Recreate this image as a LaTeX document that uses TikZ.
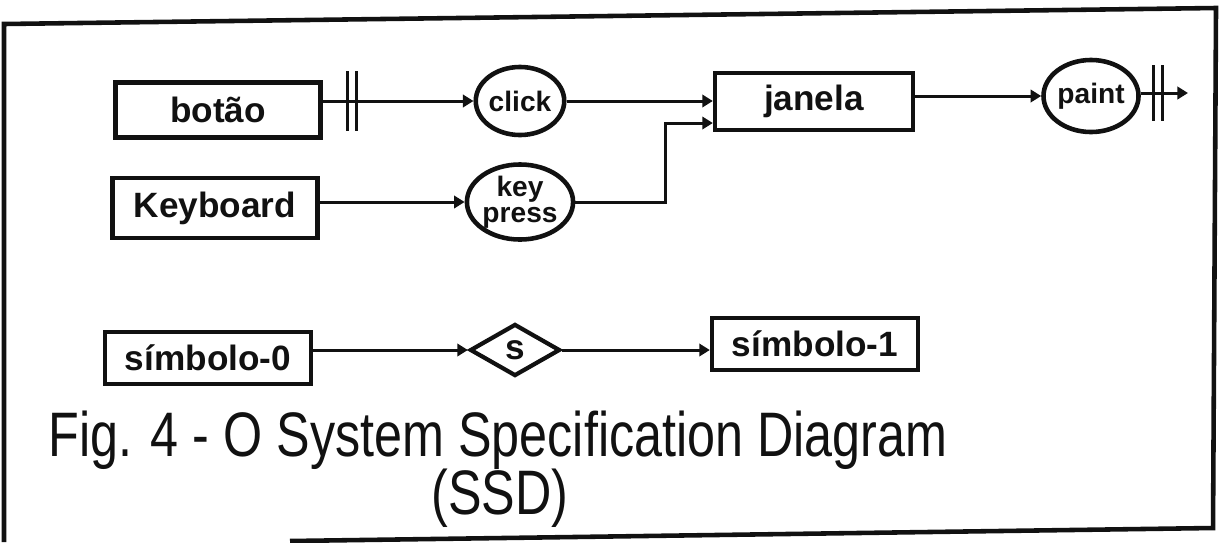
\documentclass[tikz,border=0pt]{standalone}
\usepackage{fontspec}
\setmainfont{Liberation Sans}
\usetikzlibrary{positioning,shapes.geometric,arrows.meta}
\definecolor{ink}{HTML}{111111}

\begin{document}
\begin{tikzpicture}[x=0.01cm, y=-0.01cm, ink,
    unit/.style={draw=ink, line width=1.2pt, inner sep=1pt, font=\bfseries\fontsize{10}{12}\selectfont},
    event/.style={ellipse, draw=ink, line width=1.3pt, inner sep=0pt, align=center, font=\bfseries\fontsize{8}{7.5}\selectfont},
    cond/.style={diamond, draw=ink, line width=1.2pt, inner sep=0pt, font=\bfseries\fontsize{10}{12}\selectfont},
    flow/.style={line width=0.85pt, -{Triangle[length=3pt,width=3.5pt]}},
    bar/.style={line width=1.1pt}]

  \useasboundingbox (0,0) rectangle (1219,542);

  % frame
  \draw[line width=1.3pt] (290,541) -- (1213,528) -- (1216,8) -- (4,24) -- (4,542);

  % row 1: button -> click -> window -> paint
  \node[unit, minimum width=2.05cm, minimum height=0.55cm] (botao) at (218,110) {botão};
  \node[event, minimum width=0.85cm, minimum height=0.68cm] (click) at (520,101) {click};
  \node[unit, minimum width=1.98cm, minimum height=0.57cm] (janela) at (814,101.5) {janela};
  \node[event, minimum width=0.83cm, minimum height=0.72cm] (paint) at (1091,96) {paint};
  \coordinate (out) at (1188,93);
  \coordinate (cut1) at (352,101);
  \coordinate (cut2) at (1158,93);

  % row 2: keyboard -> key press
  \node[unit, minimum width=2.05cm, minimum height=0.60cm] (keyb) at (215,208) {Keyboard};
  \node[event, minimum width=0.95cm, minimum height=0.75cm] (keypress) at (520,202) {key\\press};
  \coordinate (jin2) at ([yshift=-0.215cm]janela.west);

  % row 3: symbol transition
  \node[unit, minimum width=2.06cm, minimum height=0.52cm] (sym0) at (208,358) {símbolo-0};
  \node[cond, minimum width=0.9cm, minimum height=0.52cm] (s) at (515,350) {s};
  \node[unit, minimum width=2.06cm, minimum height=0.52cm] (sym1) at (815,344) {símbolo-1};

  % connectors
  \draw[flow] (botao.east |- click.west) -- (click.west);
  \draw[flow] (click.east) -- (click.east -| janela.west);
  \draw[flow] (keyb.east |- keypress.west) -- (keypress.west);
  \draw[flow] (keypress.east) -- ++(90,0) |- (jin2);
  \draw[flow] (janela.east |- paint.west) -- (paint.west);
  \draw[flow] (paint.east |- out) -- (out);
  \draw[flow] (sym0.east |- s.west) -- (s.west);
  \draw[flow] (s.east) -- (s.east -| sym1.west);

  % double bars
  \draw[bar] (cut1) ++(-4.5,-30) -- ++(0,60);
  \draw[bar] (cut1) ++(4.5,-30) -- ++(0,60);
  \draw[bar] (cut2) ++(-4.5,-28) -- ++(0,56);
  \draw[bar] (cut2) ++(4.5,-28) -- ++(0,56);

  % caption
  \node[font=\fontsize{14.3}{16}\selectfont, yscale=1.25] (fig) at (498,440) {Fig. 4 - O System Specification Diagram};
  \node[font=\fontsize{14.3}{16}\selectfont, yscale=1.25] (ssd) at (500,498) {(SSD)};
\end{tikzpicture}
\end{document}
